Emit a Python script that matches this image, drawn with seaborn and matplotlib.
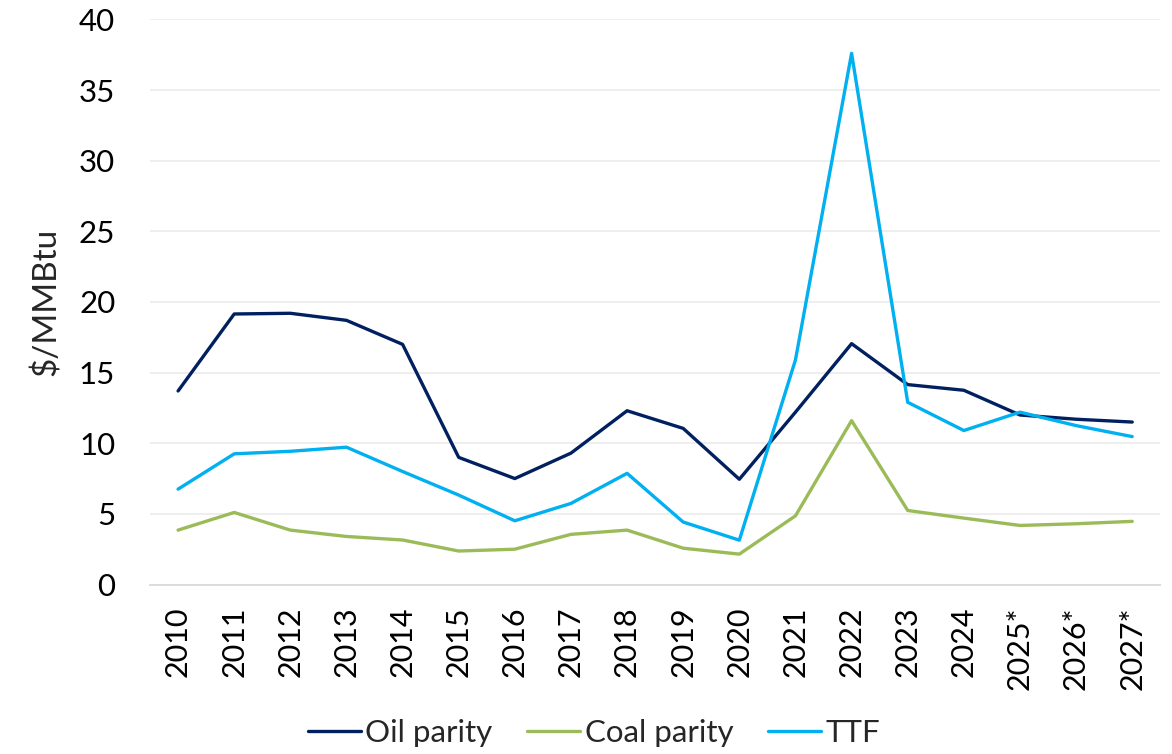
import matplotlib
matplotlib.use("Agg")
import matplotlib.pyplot as plt
import seaborn as sns
import pandas as pd

# data ($/MMBtu)
years = ['2010', '2011', '2012', '2013', '2014', '2015', '2016', '2017', '2018',
         '2019', '2020', '2021', '2022', '2023', '2024', '2025*', '2026*', '2027*']
oil_parity = [13.7, 19.15, 19.2, 18.7, 17.0, 9.0, 7.5, 9.3, 12.3,
              11.05, 7.45, 12.2, 17.05, 14.15, 13.75, 12.0, 11.7, 11.5]
coal_parity = [3.85, 5.1, 3.85, 3.4, 3.15, 2.37, 2.5, 3.55, 3.85,
               2.57, 2.15, 4.86, 11.6, 5.24, 4.7, 4.18, 4.3, 4.47]
ttf = [6.75, 9.25, 9.43, 9.72, 8.0, 6.33, 4.51, 5.74, 7.87,
       4.42, 3.14, 15.9, 37.6, 12.9, 10.9, 12.2, 11.25, 10.47]

series_names = ['Oil parity', 'Coal parity', 'TTF']
colors = ['#002060', '#9BBB59', '#00B0F0']

df = pd.DataFrame({'year': years, 'Oil parity': oil_parity,
                   'Coal parity': coal_parity, 'TTF': ttf})
long_df = df.melt(id_vars='year', var_name='series', value_name='value')

sns.set_style('white')
plt.rcParams['font.family'] = ['Lato', 'DejaVu Sans']

fig = plt.figure(figsize=(11.72, 7.54), dpi=100)
ax = fig.add_axes([0.128, 0.2248, 0.862, 0.7494])

sns.lineplot(data=long_df, x='year', y='value', hue='series', hue_order=series_names,
             palette=dict(zip(series_names, colors)), sort=False, linewidth=2.4,
             ax=ax, legend=False)

ax.set_xlim(-0.5, len(years) - 0.5)
ax.set_ylim(0, 40)
ax.set_yticks(range(0, 41, 5))
ax.yaxis.grid(True, color='#EDEDED', linewidth=1.3)
ax.set_axisbelow(True)
for side in ['top', 'right', 'left']:
    ax.spines[side].set_visible(False)
ax.spines['bottom'].set_color('#D9D9D9')
ax.spines['bottom'].set_linewidth(1.3)

ax.set_xticks(range(len(years)))
ax.set_xticklabels(years, rotation=90)
ax.tick_params(axis='x', length=0, pad=16, labelsize=22, colors='#000000')
ax.tick_params(axis='y', length=0, pad=25, labelsize=22.5, colors='#000000')
ax.set_xlabel('')
ax.set_ylabel('$/MMBtu', fontsize=24, labelpad=12)

handles = [plt.Line2D([], [], color=c, linewidth=2.4) for c in colors]
fig.legend(handles, series_names, loc='center', bbox_to_anchor=(594 / 1172, 1 - 733 / 754),
           ncol=3, frameon=False, fontsize=22.5, handlelength=1.7, handletextpad=0.15,
           columnspacing=1.1)

fig.savefig('out.png', dpi=100)
